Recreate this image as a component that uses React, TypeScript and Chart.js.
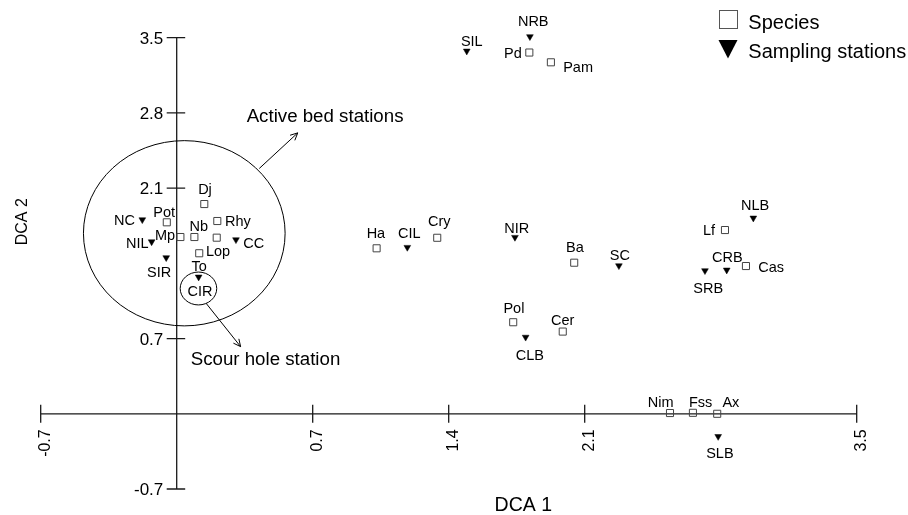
import React, { useEffect, useRef } from 'react';
import { Chart, registerables } from 'chart.js';

Chart.register(...registerables);

// ---------- data ----------
const speciesNames = ['Pd', 'Pam', 'Dj', 'Pot', 'Rhy', 'Nb', 'Mp', '', 'Lop', 'Ha', 'Cry', 'Lf', 'Ba', 'Cas', 'Pol', 'Cer', 'Nim', 'Fss', 'Ax'];
const speciesDCA1 = [1.815, 1.926, 0.142, -0.051, 0.209, 0.091, 0.019, 0.206, 0.116, 1.029, 1.341, 2.822, 2.046, 2.93, 1.732, 1.987, 2.539, 2.657, 2.782];
const speciesDCA2 = [3.362, 3.271, 1.952, 1.782, 1.794, 1.645, 1.645, 1.639, 1.494, 1.54, 1.638, 1.71, 1.406, 1.375, 0.852, 0.765, 0.007, 0.009, 0.0];

const stationNames = ['NRB', 'SIL', 'NC', 'NIL', 'CC', 'SIR', 'CIR', 'CIL', 'NIR', 'NLB', 'SC', 'CRB', 'SRB', 'CLB', 'SLB'];
const stationDCA1 = [1.818, 1.493, -0.177, -0.129, 0.305, -0.054, 0.113, 1.187, 1.741, 2.968, 2.276, 2.831, 2.719, 1.796, 2.787];
const stationDCA2 = [3.51, 3.376, 1.806, 1.601, 1.62, 1.453, 1.273, 1.549, 1.642, 1.822, 1.378, 1.338, 1.332, 0.713, -0.211];

const xTickValues = [-0.7, 0.7, 1.4, 2.1, 3.5];
const xTickLabels = ['-0.7', '0.7', '1.4', '2.1', '3.5'];
const yTickValues = [3.5, 2.8, 2.1, 0.7, -0.7];
const yTickLabels = ['3.5', '2.8', '2.1', '0.7', '-0.7'];

const legendLabels = ['Species', 'Sampling stations'];
const axisTitles = ['DCA 1', 'DCA 2'];

// ---------- layout (label placement, in pixels relative to the marker) ----------
const speciesLabelAlign = ['r', 'l', 'c', 'c', 'l', 'c', 'r', 'c', 'l', 'c', 'c', 'r', 'c', 'l', 'c', 'c', 'c', 'c', 'c'];
const speciesLabelDx = [-7.6, 12.3, 0.7, -2.7, 7.7, 4.5, -5.3, 0, 6.7, -0.7, 2, -10, 0.7, 12.3, 0.7, 0, -9.3, 7.7, 13.7];
const speciesLabelDy = [0, 4.7, -15.7, -10.3, 0, -11, -2, 0, -2.3, -15, -16.7, 0, -16, 0.7, -14.6, -11.7, -11.6, -11.3, -11.7];

const stationLabelAlign = ['c', 'c', 'r', 'r', 'l', 'c', 'c', 'c', 'c', 'c', 'c', 'c', 'c', 'c', 'c'];
const stationLabelDx = [3.3, 5, -7.3, -3, 7.3, -7, 1.3, 2, 1.7, 1.7, 1, 0.6, 3.3, 4.3, 1.7];
const stationLabelDy = [-16.3, -10.7, 0.3, 1, 2.6, 14, 13.7, -14.6, -9.6, -13, -10.7, -13.3, 17.6, 17.7, 16];

// annotations (in data units)
const annotationTexts = ['To', 'Active bed stations', 'Scour hole station'];
const annotationX = [0.115, 0.36, 0.072];
const annotationY = [1.375, 2.779, 0.518];
const annotationAlign = ['c', 'l', 'l'];
const annotationSize = [14.5, 18.7, 18.7];

const ellipseCX = [0.039, 0.112];
const ellipseCY = [1.68, 1.166];
const ellipseRX = [0.519, 0.094];
const ellipseRY = [0.862, 0.153];

const arrowFromX = [0.425, 0.151];
const arrowFromY = [2.283, 1.029];
const arrowToX = [0.623, 0.329];
const arrowToY = [2.614, 0.625];

const FONT = '"Liberation Sans", Arial, Helvetica, sans-serif';

function alignOf(a: string): CanvasTextAlign {
  return a === 'l' ? 'left' : a === 'r' ? 'right' : 'center';
}

const overlayPlugin = {
  id: 'dcaOverlay',
  beforeDatasetsDraw(chart: any) {
    const { ctx, scales } = chart;
    const xs = scales.x;
    const ys = scales.y;
    const px = (v: number) => xs.getPixelForValue(v);
    const py = (v: number) => ys.getPixelForValue(v);
    ctx.save();
    ctx.strokeStyle = '#1a1a1a';
    ctx.lineWidth = 1.3;
    // axes
    ctx.beginPath();
    ctx.moveTo(px(xs.min), py(0));
    ctx.lineTo(px(xs.max), py(0));
    ctx.moveTo(px(0), py(ys.min));
    ctx.lineTo(px(0), py(ys.max));
    // ticks
    xTickValues.forEach((t) => {
      const X = px(t);
      ctx.moveTo(X, py(0) - 9);
      ctx.lineTo(X, py(0) + 9);
    });
    yTickValues.forEach((t) => {
      const Y = py(t);
      ctx.moveTo(px(0) - 10, Y);
      ctx.lineTo(px(0) + 8.5, Y);
    });
    ctx.stroke();

    ctx.fillStyle = '#000';
    // y tick labels
    ctx.font = `17px ${FONT}`;
    ctx.textAlign = 'right';
    ctx.textBaseline = 'alphabetic';
    yTickValues.forEach((t, i) => {
      ctx.fillText(yTickLabels[i], px(0) - 13.4, py(t) + 0.358 * 17);
    });
    // x tick labels (rotated)
    ctx.font = `16px ${FONT}`;
    xTickValues.forEach((t, i) => {
      ctx.save();
      ctx.translate(px(t) + 9, py(0) + 15.5);
      ctx.rotate(-Math.PI / 2);
      ctx.textAlign = 'right';
      ctx.fillText(xTickLabels[i], 0, 0);
      ctx.restore();
    });

    // ellipses
    ctx.strokeStyle = '#000';
    ctx.lineWidth = 1;
    ellipseCX.forEach((cx, i) => {
      const rx = Math.abs(px(cx + ellipseRX[i]) - px(cx));
      const ry = Math.abs(py(ellipseCY[i] + ellipseRY[i]) - py(ellipseCY[i]));
      ctx.beginPath();
      ctx.ellipse(px(cx), py(ellipseCY[i]), rx, ry, 0, 0, Math.PI * 2);
      ctx.stroke();
    });
    // arrows
    arrowFromX.forEach((fx, i) => {
      const x1 = px(fx), y1 = py(arrowFromY[i]);
      const x2 = px(arrowToX[i]), y2 = py(arrowToY[i]);
      const ang = Math.atan2(y2 - y1, x2 - x1);
      const h = 8;
      ctx.beginPath();
      ctx.moveTo(x1, y1);
      ctx.lineTo(x2, y2);
      ctx.moveTo(x2 - h * Math.cos(ang - 0.45), y2 - h * Math.sin(ang - 0.45));
      ctx.lineTo(x2, y2);
      ctx.lineTo(x2 - h * Math.cos(ang + 0.45), y2 - h * Math.sin(ang + 0.45));
      ctx.stroke();
    });
    ctx.restore();
  },
  afterDatasetsDraw(chart: any) {
    const { ctx, scales } = chart;
    const px = (v: number) => scales.x.getPixelForValue(v);
    const py = (v: number) => scales.y.getPixelForValue(v);
    ctx.save();
    ctx.fillStyle = '#000';
    ctx.textBaseline = 'alphabetic';
    const lblSize = 14.5;
    ctx.font = `${lblSize}px ${FONT}`;
    speciesNames.forEach((n, i) => {
      if (!n) return;
      ctx.textAlign = alignOf(speciesLabelAlign[i]);
      ctx.fillText(n, px(speciesDCA1[i]) + speciesLabelDx[i], py(speciesDCA2[i]) + speciesLabelDy[i] + 0.358 * lblSize);
    });
    stationNames.forEach((n, i) => {
      ctx.textAlign = alignOf(stationLabelAlign[i]);
      ctx.fillText(n, px(stationDCA1[i]) + stationLabelDx[i], py(stationDCA2[i]) + stationLabelDy[i] + 0.358 * lblSize);
    });
    annotationTexts.forEach((t, i) => {
      ctx.font = `${annotationSize[i]}px ${FONT}`;
      ctx.textAlign = alignOf(annotationAlign[i]);
      ctx.fillText(t, px(annotationX[i]), py(annotationY[i]) + 0.358 * annotationSize[i]);
    });

    // axis titles
    ctx.font = `19.5px ${FONT}`;
    ctx.textAlign = 'center';
    ctx.fillText(axisTitles[0], 523.3, 511);
    ctx.save();
    ctx.font = `16px ${FONT}`;
    ctx.translate(26.7, 221.7);
    ctx.rotate(-Math.PI / 2);
    ctx.fillText(axisTitles[1], 0, 0);
    ctx.restore();

    // legend
    ctx.strokeStyle = '#555';
    ctx.lineWidth = 1;
    ctx.strokeRect(719.5, 10.5, 18, 18);
    ctx.fillStyle = '#000';
    ctx.beginPath();
    ctx.moveTo(718.5, 40);
    ctx.lineTo(737.5, 40);
    ctx.lineTo(728, 58.5);
    ctx.closePath();
    ctx.fill();
    ctx.font = `20px ${FONT}`;
    ctx.textAlign = 'left';
    ctx.fillText(legendLabels[0], 748.3, 29);
    ctx.fillText(legendLabels[1], 748.3, 57.5);
    ctx.restore();
  },
};

export default function App() {
  const ref = useRef<HTMLCanvasElement>(null);
  useEffect(() => {
    if (!ref.current) return;
    const chart = new Chart(ref.current, {
      type: 'scatter',
      data: {
        datasets: [
          {
            label: 'Species',
            data: speciesDCA1.map((x, i) => ({ x, y: speciesDCA2[i] })),
            pointStyle: 'rect',
            pointRadius: 5,
            pointBorderWidth: 1,
            pointBorderColor: '#444',
            pointBackgroundColor: 'rgba(255,255,255,0)',
            clip: false,
          },
          {
            label: 'Sampling stations',
            data: stationDCA1.map((x, i) => ({ x, y: stationDCA2[i] })),
            pointStyle: 'triangle',
            pointRotation: 180,
            pointRadius: 3.9,
            pointBorderWidth: 0.5,
            pointBorderColor: '#000',
            pointBackgroundColor: '#000',
            clip: false,
          },
        ],
      },
      options: {
        responsive: false,
        animation: false,
        devicePixelRatio: 1,
        events: [],
        layout: { padding: { left: 40.7, right: 51.3, top: 37.7, bottom: 26 } },
        scales: {
          x: { type: 'linear', min: -0.7, max: 3.5, display: false },
          y: { type: 'linear', min: -0.7, max: 3.5, display: false },
        },
        plugins: { legend: { display: false }, tooltip: { enabled: false } },
      },
      plugins: [overlayPlugin],
    } as any);
    return () => chart.destroy();
  }, []);
  return (
    <div style={{ position: 'absolute', left: 0, top: 0, width: 908, height: 515, background: '#fff' }}>
      <canvas ref={ref} width={908} height={515} style={{ display: 'block' }} />
    </div>
  );
}
